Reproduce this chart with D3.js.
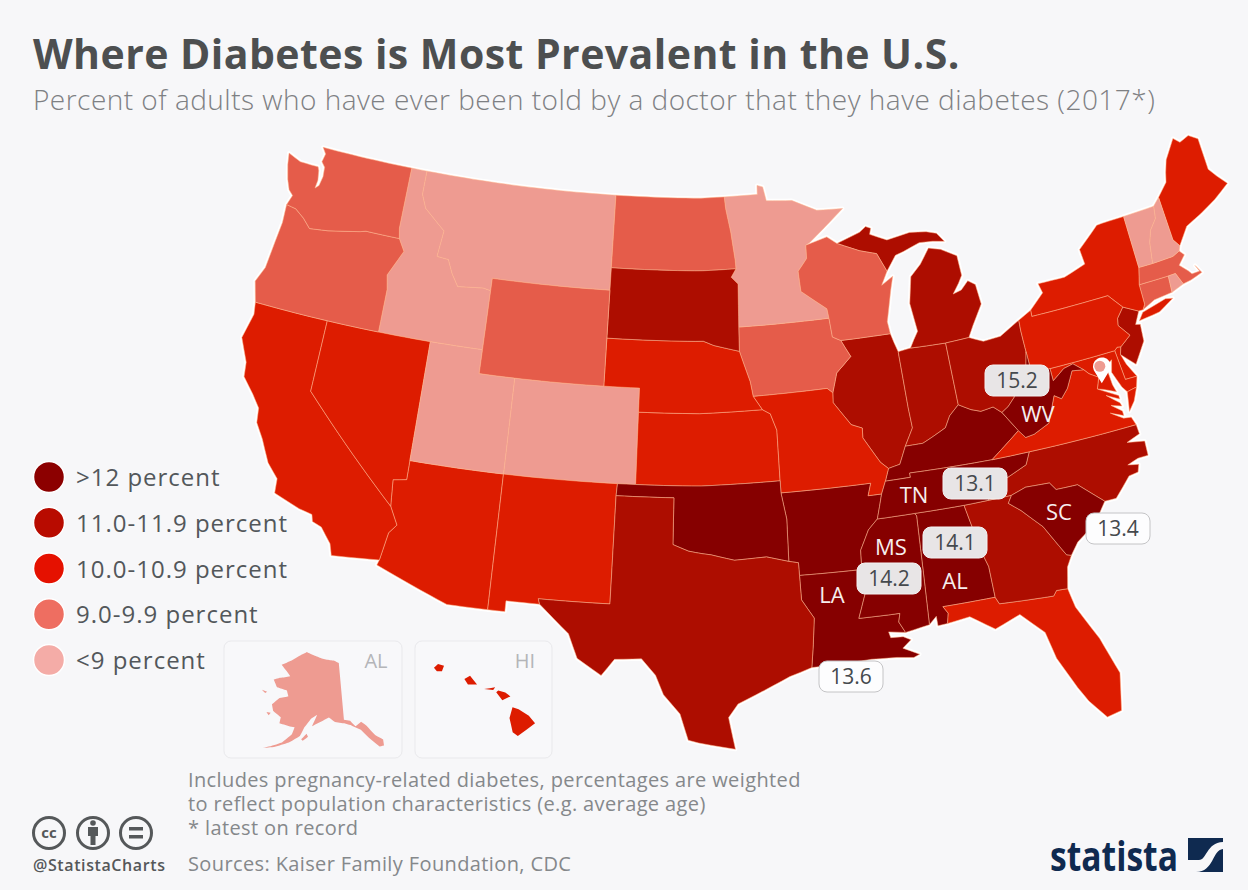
<!DOCTYPE html>
<html>
<head>
<meta charset="utf-8">
<script src="https://cdn.jsdelivr.net/npm/d3@7"></script>
<style>
  html, body { margin: 0; background: #f7f7f9; }
  text { font-family: "Open Sans", sans-serif; }
</style>
</head>
<body>
<svg id="chart" width="1248" height="890"></svg>
<script>
const stateCodes = ["AL","AK","AZ","AR","CA","CO","CT","DE","FL","GA","HI","ID","IL","IN","IA","KS","KY","LA","ME","MD","MA","MI","MN","MS","MO","MT","NE","NV","NH","NJ","NM","NY","NC","ND","OH","OK","OR","PA","RI","SC","SD","TN","TX","UT","VT","VA","WA","WV","WI","WY"]
const stateRates = [14.1,8.4,10.4,12.4,10.5,7.5,9.5,10.9,10.5,11.4,10.5,8.7,11.0,11.8,9.5,10.5,12.8,13.6,10.5,10.8,9.5,11.2,7.9,14.2,10.5,8.5,10.5,10.5,8.8,11.0,10.6,10.5,11.3,9.5,11.3,12.4,9.5,10.5,8.9,13.4,11.0,13.1,11.3,8.0,8.6,10.6,9.5,15.2,9.5,9.4]
const rateBreaks = [9, 10, 11, 12]
const mapColors = ["#ee9b91", "#e55c4a", "#dd1c00", "#ad0d00", "#860000"]
const legendLabels = [">12 percent", "11.0-11.9 percent", "10.0-10.9 percent", "9.0-9.9 percent", "<9 percent"]
const legendColors = ["#8c0000", "#b80b00", "#e51100", "#ee6e61", "#f4aca7"]
const labelledStates = ["WV", "TN", "MS", "AL", "LA", "SC"]
const noteLines = ["Includes pregnancy-related diabetes, percentages are weighted", "to reflect population characteristics (e.g. average age)", "* latest on record"]

// state outlines in lon/lat, rings per state
const outlines = {
  WA: [[[-122.76,49],[-117.03,49],[-117.04,46.42],[-116.92,45.99],[-118.98,46],[-119.3,45.93],[-121.2,45.65],[-122.3,45.55],[-122.8,45.9],[-123.4,46.2],[-124,46.27],[-123.8,46.7],[-124.1,46.9],[-124.35,47.3],[-124.6,47.9],[-124.72,48.38],[-123.9,48.16],[-123.2,48.15],[-122.75,48.15],[-122.65,48],[-122.55,47.6],[-122.6,47.25],[-122.4,47.4],[-122.3,47.8],[-122.35,48.2],[-122.6,48.4],[-122.5,48.75]]],
  OR: [[[-124,46.27],[-123.4,46.2],[-122.8,45.9],[-122.3,45.55],[-121.2,45.65],[-119.3,45.93],[-118.98,46],[-116.92,45.99],[-116.5,45.5],[-117.2,44.4],[-117.03,43.8],[-117.03,42],[-120,42],[-124.21,42],[-124.55,42.84],[-124.2,43.5],[-124.07,44.6],[-123.95,45.5]]],
  CA: [[[-124.21,42],[-120,42],[-120,39],[-114.63,35],[-114.15,34.27],[-114.5,33.9],[-114.72,32.72],[-117.12,32.53],[-117.3,33],[-117.9,33.6],[-118.4,33.75],[-118.5,34.03],[-119.2,34.15],[-120.6,34.55],[-120.65,35.15],[-121.3,35.7],[-121.9,36.6],[-122.4,37.2],[-122.5,37.8],[-123,38.3],[-123.7,38.9],[-123.8,39.5],[-124.4,40.44],[-124.1,41.5]]],
  NV: [[[-120,42],[-114.04,42],[-114.05,37],[-114.05,36.2],[-114.75,36.1],[-114.63,35],[-120,39]]],
  ID: [[[-117.03,49],[-116.05,49],[-116.05,48],[-115.7,47.45],[-114.35,46.65],[-114.5,45.55],[-113.8,45.5],[-113.45,44.95],[-113,44.45],[-111.5,44.55],[-111.05,44.48],[-111.05,42],[-114.04,42],[-117.03,42],[-117.03,43.8],[-117.2,44.4],[-116.5,45.5],[-116.92,45.99],[-117.04,46.42]]],
  MT: [[[-116.05,49],[-104.05,49],[-104.05,45.94],[-104.05,45],[-111.05,45],[-111.05,44.48],[-111.5,44.55],[-113,44.45],[-113.45,44.95],[-113.8,45.5],[-114.5,45.55],[-114.35,46.65],[-115.7,47.45],[-116.05,48]]],
  WY: [[[-111.05,45],[-104.05,45],[-104.05,43],[-104.05,41],[-109.05,41],[-111.05,41]]],
  UT: [[[-114.04,42],[-111.05,42],[-111.05,41],[-109.05,41],[-109.05,37],[-114.05,37]]],
  CO: [[[-109.05,41],[-104.05,41],[-102.05,41],[-102.05,40],[-102.04,37],[-103,37],[-109.05,37]]],
  AZ: [[[-114.05,37],[-109.05,37],[-109.05,31.33],[-111.07,31.33],[-114.8,32.5],[-114.72,32.72],[-114.5,33.9],[-114.15,34.27],[-114.63,35],[-114.75,36.1],[-114.05,36.2]]],
  NM: [[[-109.05,37],[-103,37],[-103.04,36.5],[-103.06,32],[-106.62,32],[-106.53,31.78],[-108.2,31.78],[-108.2,31.33],[-109.05,31.33]]],
  ND: [[[-104.05,49],[-97.23,49],[-97.15,48.5],[-96.85,47.5],[-96.6,46.3],[-96.56,45.94],[-104.05,45.94]]],
  SD: [[[-104.05,45.94],[-96.56,45.94],[-96.85,45.6],[-96.45,45.3],[-96.45,43.5],[-96.44,42.49],[-97.9,42.8],[-98.5,43],[-104.05,43],[-104.05,45]]],
  NE: [[[-104.05,43],[-98.5,43],[-97.9,42.8],[-96.44,42.49],[-95.9,41.2],[-95.77,40.58],[-95.31,40],[-102.05,40],[-102.05,41],[-104.05,41]]],
  KS: [[[-102.05,40],[-95.31,40],[-94.9,39.8],[-94.61,39.1],[-94.62,37],[-102.04,37]]],
  OK: [[[-103,37],[-102.04,37],[-94.62,37],[-94.62,36.5],[-94.43,35.4],[-94.48,33.64],[-95.5,33.9],[-97,33.85],[-98.1,34.13],[-99.2,34.3],[-100,34.56],[-100,36.5],[-103.04,36.5]]],
  TX: [[[-103.04,36.5],[-100,36.5],[-100,34.56],[-99.2,34.3],[-98.1,34.13],[-97,33.85],[-95.5,33.9],[-94.48,33.64],[-94.04,33.55],[-94.04,33.02],[-94.04,32],[-93.55,31.2],[-93.7,30.1],[-93.85,29.15],[-94.8,28.85],[-95.9,28.35],[-97,27.85],[-97.4,27.3],[-97.15,25.95],[-99.1,26.4],[-99.5,27.5],[-100.3,28.3],[-100.7,29.1],[-101.4,29.77],[-102.7,29.7],[-103.3,29],[-104.5,29.65],[-105,30.65],[-106.53,31.78],[-106.62,32],[-103.06,32]]],
  MN: [[[-97.23,49],[-95.15,49],[-95.15,49.38],[-94.8,49.3],[-94.6,48.7],[-93,48.6],[-91.5,48.07],[-89.9,48],[-92.05,46.75],[-92.3,46.66],[-92.3,46.1],[-92.85,45.6],[-92.75,44.75],[-91.3,43.9],[-91.22,43.5],[-96.45,43.5],[-96.45,45.3],[-96.85,45.6],[-96.56,45.94],[-96.6,46.3],[-96.85,47.5],[-97.15,48.5]]],
  IA: [[[-96.45,43.5],[-91.22,43.5],[-91.1,42.7],[-90.64,42.51],[-90.2,41.8],[-91.1,41.2],[-91.45,40.4],[-91.73,40.61],[-95.77,40.58],[-95.9,41.2],[-96.44,42.49]]],
  MO: [[[-95.77,40.58],[-91.73,40.61],[-91.45,40.4],[-91.5,40],[-90.7,39],[-90.15,38.8],[-90.2,38.4],[-89.5,37.3],[-89.13,37],[-89.4,36.5],[-89.7,36],[-90.37,36],[-90.15,36.5],[-94.62,36.5],[-94.62,37],[-94.61,39.1],[-94.9,39.8],[-95.31,40]]],
  AR: [[[-94.62,36.5],[-90.15,36.5],[-90.37,36],[-89.7,36],[-90.1,35],[-90.6,34.6],[-91.1,33.8],[-91.17,33],[-94.04,33.02],[-94.04,33.55],[-94.48,33.64],[-94.43,35.4]]],
  LA: [[[-94.04,33.02],[-91.17,33],[-91,32.4],[-91.6,31],[-89.73,31],[-89.85,30.65],[-89.6,30.18],[-90.4,30.3],[-90.35,30.05],[-89.75,30.02],[-89.4,29.85],[-89.85,29.55],[-89.1,29.2],[-89.4,29.1],[-90.2,29.2],[-91.3,29.25],[-92.3,29.2],[-93.85,29.15],[-93.7,30.1],[-93.55,31.2],[-94.04,32]]],
  WI: [[[-90.42,46.57],[-89.1,46.13],[-88.1,45.9],[-87.6,45.1],[-88,44.55],[-87.3,44.85],[-87.5,44.3],[-87.9,43],[-87.8,42.49],[-90.64,42.51],[-91.1,42.7],[-91.22,43.5],[-91.3,43.9],[-92.75,44.75],[-92.85,45.6],[-92.3,46.1],[-92.3,46.66],[-91,46.9]]],
  IL: [[[-87.52,41.7],[-87.8,42.49],[-90.64,42.51],[-90.2,41.8],[-91.1,41.2],[-91.45,40.4],[-91.5,40],[-90.7,39],[-90.15,38.8],[-90.2,38.4],[-89.5,37.3],[-89.13,37],[-88.5,37.1],[-88.05,37.8],[-87.5,38.5],[-87.53,39.35]]],
  IN: [[[-84.8,41.7],[-86.8,41.76],[-87.52,41.7],[-87.53,39.35],[-87.5,38.5],[-88.05,37.8],[-87.1,37.8],[-86.5,38],[-85.75,38.27],[-85.4,38.72],[-84.82,39.1]]],
  OH: [[[-84.8,41.7],[-83.45,41.73],[-82.7,41.45],[-81.7,41.5],[-80.52,41.98],[-80.52,40.64],[-80.85,39.7],[-81.7,39.25],[-81.75,38.93],[-82.2,38.6],[-82.6,38.42],[-83,38.72],[-83.7,38.65],[-84.2,38.8],[-84.82,39.1]]],
  MI: [
    [[-84.8,41.7],[-86.8,41.76],[-86.25,42.4],[-86.5,43.6],[-86.25,44.7],[-85.6,45.15],[-85,45.75],[-84.3,45.6],[-83.4,45.2],[-83.3,44.35],[-83.55,44.05],[-83.95,43.65],[-83.45,43.75],[-83,44.07],[-82.6,43.85],[-82.45,43],[-83.1,42.2],[-83.45,41.73]],
    [[-90.42,46.57],[-89,46.9],[-88.6,47.1],[-88.3,47],[-88.4,46.75],[-87.4,46.4],[-86,46.55],[-85,46.45],[-84.4,46.3],[-84,45.9],[-84.7,46],[-85.5,46.05],[-86.5,45.8],[-87,45.7],[-87.6,45.1],[-88.1,45.9],[-89.1,46.13]]
  ],
  KY: [[[-83.68,36.6],[-86.5,36.65],[-88.07,36.68],[-88.07,36.5],[-89.4,36.5],[-89.13,37],[-88.5,37.1],[-88.05,37.8],[-87.1,37.8],[-86.5,38],[-85.75,38.27],[-85.4,38.72],[-84.82,39.1],[-84.2,38.8],[-83.7,38.65],[-83,38.72],[-82.6,38.42],[-81.97,37.54]]],
  TN: [[[-90.1,35],[-88.2,35],[-85.6,34.98],[-84.32,34.99],[-84,35.4],[-83.1,35.75],[-82,36.1],[-81.68,36.59],[-83.68,36.6],[-86.5,36.65],[-88.07,36.68],[-88.07,36.5],[-89.4,36.5],[-89.7,36]]],
  MS: [[[-88.2,35],[-90.1,35],[-90.6,34.6],[-91.1,33.8],[-91.17,33],[-91,32.4],[-91.6,31],[-89.73,31],[-89.85,30.65],[-89.6,30.18],[-88.4,30.35],[-88.1,34.9]]],
  AL: [[[-88.2,35],[-85.6,34.98],[-85.18,32.87],[-85,32.3],[-85,31],[-87.6,31],[-87.4,30.7],[-87.52,30.28],[-88,30.25],[-88,30.65],[-88.4,30.35],[-88.1,34.9]]],
  GA: [[[-85.6,34.98],[-84.32,34.99],[-83.1,35],[-83.35,34.7],[-82.8,34.3],[-81.9,33.45],[-81.1,32.1],[-80.87,32.03],[-81.2,31.6],[-81.45,30.72],[-82,30.75],[-82.2,30.55],[-84.86,30.7],[-85,31],[-85,32.3],[-85.18,32.87]]],
  FL: [[[-87.6,31],[-85,31],[-84.86,30.7],[-82.2,30.55],[-82,30.75],[-81.45,30.72],[-81.3,29.9],[-80.55,28.4],[-80.03,26.8],[-80.4,25.25],[-81.1,25.12],[-81.75,25.95],[-82.1,26.6],[-82.75,28],[-83,29.15],[-84,30.1],[-85.3,29.7],[-86.4,30.4],[-87.52,30.28],[-87.4,30.7]]],
  SC: [[[-83.1,35],[-82.3,35.2],[-81.05,35.15],[-80.8,34.82],[-79.67,34.8],[-78.55,33.86],[-79.3,33.1],[-80.4,32.5],[-80.87,32.03],[-81.1,32.1],[-81.9,33.45],[-82.8,34.3],[-83.35,34.7]]],
  NC: [[[-84.32,34.99],[-83.1,35],[-82.3,35.2],[-81.05,35.15],[-80.8,34.82],[-79.67,34.8],[-78.55,33.86],[-77.95,33.85],[-77,34.6],[-76.5,34.65],[-76.35,34.95],[-76.9,35.05],[-76.3,35.2],[-75.75,35.2],[-75.7,35.8],[-76.6,35.95],[-75.85,36.15],[-75.87,36.55],[-81.68,36.59],[-82,36.1],[-83.1,35.75],[-84,35.4]]],
  VA: [
    [[-83.68,36.6],[-81.97,37.54],[-81.68,37.2],[-81.2,37.25],[-80.3,37.55],[-79.65,38.6],[-79.3,38.4],[-78.85,38.75],[-78.35,39.4],[-77.72,39.32],[-77.5,39.1],[-77.05,38.85],[-77.3,38.4],[-76.3,37.9],[-76.3,37.75],[-76.95,38.05],[-76.35,37.6],[-76.3,37.45],[-76.85,37.6],[-76.35,37.25],[-76.35,37.05],[-77,37.3],[-76.4,36.95],[-76,36.9],[-75.87,36.55],[-81.68,36.59]],
    [[-76,37.15],[-75.8,37.95],[-75.25,38.03],[-75.6,37.5]]
  ],
  WV: [[[-80.52,40.64],[-80.52,39.72],[-79.48,39.72],[-79.48,39.2],[-78.75,39.58],[-78.2,39.67],[-77.72,39.32],[-78.35,39.4],[-78.85,38.75],[-79.3,38.4],[-79.65,38.6],[-80.3,37.55],[-81.2,37.25],[-81.68,37.2],[-81.97,37.54],[-82.6,38.42],[-82.2,38.6],[-81.75,38.93],[-81.7,39.25],[-80.85,39.7]]],
  MD: [[[-79.48,39.72],[-75.79,39.72],[-75.7,38.46],[-75.05,38.45],[-75.25,38.03],[-75.8,37.95],[-76,38.2],[-76.3,38.9],[-76.1,39.4],[-76.5,39.2],[-76.45,38.4],[-76.35,38.08],[-77,38.32],[-77.3,38.4],[-77.05,38.85],[-77.5,39.1],[-77.72,39.32],[-78.2,39.67],[-78.75,39.58],[-79.48,39.2]]],
  DE: [[[-75.79,39.72],[-75.6,39.83],[-75.4,39.8],[-75.55,39.5],[-75.4,39.05],[-75.05,38.45],[-75.7,38.46]]],
  PA: [[[-80.52,41.98],[-79.76,42.27],[-79.76,42],[-75.35,42],[-74.7,41.36],[-75.13,40.97],[-75.2,40.68],[-74.73,40.15],[-75.4,39.8],[-75.6,39.83],[-75.79,39.72],[-79.48,39.72],[-80.52,39.72],[-80.52,40.64]]],
  NJ: [[[-74.7,41.36],[-73.9,41],[-74.25,40.5],[-74,40.45],[-74.1,39.75],[-74.9,38.93],[-75.55,39.5],[-75.4,39.8],[-74.73,40.15],[-75.2,40.68],[-75.13,40.97]]],
  NY: [
    [[-79.76,42.27],[-78.9,42.85],[-79.05,43.27],[-77.5,43.25],[-76.2,43.55],[-76.3,44.2],[-75,44.98],[-74.7,45],[-73.35,45],[-73.3,43.63],[-73.27,42.75],[-73.5,42.05],[-73.49,41.2],[-73.65,41],[-73.9,41],[-74.7,41.36],[-75.35,42],[-79.76,42]],
    [[-74,40.6],[-73.7,40.9],[-72.3,41.15],[-71.9,41.07],[-72.8,40.7]]
  ],
  CT: [[[-73.5,42.05],[-71.8,42.02],[-71.85,41.32],[-72.9,41.25],[-73.65,41],[-73.49,41.2]]],
  RI: [[[-71.8,42.02],[-71.38,42.02],[-71.12,41.5],[-71.85,41.32]]],
  MA: [[[-73.5,42.05],[-73.27,42.75],[-72.46,42.73],[-71.25,42.74],[-70.82,42.87],[-70.6,42.65],[-71.05,42.3],[-70.65,41.95],[-70.5,41.78],[-70.05,41.78],[-70.2,42.07],[-69.95,41.7],[-70.65,41.55],[-71.12,41.5],[-71.38,42.02],[-71.8,42.02]]],
  VT: [[[-73.35,45],[-71.5,45.01],[-71.6,44.5],[-72.05,44.1],[-72.3,43.6],[-72.46,42.73],[-73.27,42.75],[-73.3,43.63]]],
  NH: [[[-71.5,45.01],[-71.08,45.3],[-70.98,43.4],[-70.7,43.07],[-70.82,42.87],[-71.25,42.74],[-72.46,42.73],[-72.3,43.6],[-72.05,44.1],[-71.6,44.5]]],
  ME: [[[-71.08,45.3],[-70.4,45.8],[-70.25,46.2],[-70,46.7],[-69.23,47.46],[-68.9,47.2],[-68.3,47.35],[-67.8,47.07],[-67.8,45.7],[-67.45,45.3],[-67,44.85],[-68,44.4],[-69,44.05],[-70,43.75],[-70.7,43.07],[-70.98,43.4]]],
  AK: [
    [[-141,69.65],[-143,70.1],[-148,70.4],[-152,70.85],[-156.6,71.35],[-160,70.5],[-163,69.5],[-166.8,68.35],[-164,67.6],[-162,66.9],[-163.5,66.6],[-166,66.2],[-168.1,65.65],[-166,64.6],[-162,64.5],[-161,63.6],[-164,63],[-166,61.7],[-165,60.7],[-162,60],[-162,59],[-158,58.8],[-157,58.8],[-157.5,57.6],[-160,56],[-163,55],[-165,54.4],[-162,55],[-158,56.2],[-155,57.5],[-153.9,59],[-152,60.5],[-150,61.2],[-151.5,59.3],[-149,60],[-146,60.8],[-144,60],[-141,59.7],[-139,59.3],[-136,58.3],[-134,56.8],[-131.5,55],[-130.2,55],[-130,56],[-132,57],[-134,58.8],[-135.5,59.6],[-137.5,59],[-139,60],[-141,60.3]],
    [[-154.5,57],[-153,58],[-152.5,57.5],[-154,56.8]],
    [[-171,63.4],[-169,63.4],[-169.5,63.1]],
    [[-167,60.2],[-165.6,60.3],[-166,59.8]]
  ],
  HI: [
    [[-159.8,22.05],[-159.6,22.23],[-159.3,22.15],[-159.4,21.9],[-159.65,21.9]],
    [[-158.28,21.55],[-158,21.7],[-157.65,21.3],[-158.1,21.3]],
    [[-157.3,21.1],[-156.75,21.17],[-156.85,21.05]],
    [[-156.7,20.95],[-156.6,21.03],[-156.25,20.93],[-156,20.75],[-156.4,20.58]],
    [[-155.9,20.25],[-155.6,20.15],[-155.1,19.85],[-154.8,19.5],[-155.65,18.92],[-155.9,19.1],[-156.05,19.75]]
  ]
}

// long edges follow the parallels, so add points before the sphere bends them
function densify(ring) {
  const out = []
  ring.forEach((p, i) => {
    const q = ring[(i + 1) % ring.length]
    const steps = Math.ceil(Math.max(Math.abs(q[0] - p[0]), Math.abs(q[1] - p[1])) / 0.5) || 1
    for (let k = 0; k < steps; k++) out.push([p[0] + (q[0] - p[0]) * k / steps, p[1] + (q[1] - p[1]) * k / steps])
  })
  out.push(out[0].slice())
  return out
}

function toPolygon(ring) {
  const dense = densify(ring)
  const poly = {type: "Polygon", coordinates: [dense]}
  if (d3.geoArea(poly) > 2 * Math.PI) poly.coordinates = [dense.slice().reverse()]
  return poly.coordinates
}

const features = stateCodes.map((code, i) => ({
  type: "Feature",
  id: code,
  properties: {rate: stateRates[i]},
  geometry: {type: "MultiPolygon", coordinates: outlines[code].map(toPolygon)}
}))

const color = d3.scaleThreshold().domain(rateBreaks).range(mapColors)
const svg = d3.select("#chart")

const lower48 = features.filter((d) => d.id !== "AK" && d.id !== "HI")
const albers = d3.geoAlbers()
  .rotate([98, 0])
  .center([0, 38])
  .parallels([29.5, 45.5])
  .scale(1370)
  .translate([712, 462])

// the original map turns its eastern half slightly, same here on top of the Albers
function bend(x, y) {
  const share = Math.min(1, Math.max(0, (x - 700) / 170))
  return [x + 0.07 * Math.max(0, y - 350) * share, y - 0.055 * Math.max(0, x - 700)]
}
const bent = d3.geoTransform({
  point(x, y) {
    const p = bend(x, y)
    this.stream.point(p[0], p[1])
  }
})
const path = d3.geoPath({stream: (s) => albers.stream(bent.stream(s))})

const halo = svg.append("g")
halo.selectAll("path").data(lower48).join("path")
  .attr("d", path)
  .attr("fill", "#fff")
  .attr("stroke", "#fff")
  .attr("stroke-width", 4)
  .attr("stroke-linejoin", "round")

svg.append("g").selectAll("path").data(lower48).join("path")
  .attr("d", path)
  .attr("fill", (d) => color(d.properties.rate))
  .attr("stroke", "#ffb48c")
  .attr("stroke-opacity", 0.65)
  .attr("stroke-width", 0.8)
  .attr("stroke-linejoin", "round")

// DC pin, the tip sits at the head of the Potomac as drawn in the original
const dc = bend(...albers([-76.98, 38.58]))
const pin = svg.append("g").attr("transform", `translate(${dc[0]},${dc[1]})`)
pin.append("path").attr("d", "M-8,-13 A9,9 0 1 1 6,-10 L0,0 Z").attr("fill", "#fff")
pin.append("circle").attr("cx", -2).attr("cy", -17).attr("r", 5.5).attr("fill", mapColors[0])

// insets
const insets = [
  {id: "AK", label: "AL", x: 224, w: 178, labelX: 376, extent: [[262, 648], [384, 752]], proj: d3.geoConicEqualArea().rotate([147, 0]).parallels([55, 65])},
  {id: "HI", label: "HI", x: 415, w: 137, labelX: 525, extent: [[430, 664], [539, 736]], proj: d3.geoConicEqualArea().rotate([157, 0]).parallels([19, 22])}
]
insets.forEach((inset) => {
  const f = features.find((d) => d.id === inset.id)
  svg.append("rect")
    .attr("x", inset.x).attr("y", 641)
    .attr("width", inset.w).attr("height", 117)
    .attr("rx", 7)
    .attr("fill", "#f8f8fa")
    .attr("stroke", "#e9e9ec")
  svg.append("path")
    .datum(f)
    .attr("d", d3.geoPath(inset.proj.fitExtent(inset.extent, f)))
    .attr("fill", color(f.properties.rate))
  svg.append("text")
    .attr("x", inset.labelX).attr("y", 668)
    .attr("text-anchor", "middle")
    .attr("font-size", 20)
    .attr("fill", "#b4b5b8")
    .text(inset.label)
})

// state codes on the darkest states
const codePlaces = {WV: [1038, 422], TN: [914, 503], MS: [891, 555], AL: [955, 589], LA: [832, 603], SC: [1059, 520]}
svg.append("g").selectAll("text").data(labelledStates).join("text")
  .attr("x", (d) => codePlaces[d][0])
  .attr("y", (d) => codePlaces[d][1])
  .attr("text-anchor", "middle")
  .attr("font-size", 22)
  .attr("fill", "#f6eeee")
  .text((d) => d)

// value badges, the last two sit off the coast
const badgePlaces = {WV: [985, 365, false], TN: [943, 468, false], AL: [923, 527, false], MS: [857, 563, false], SC: [1086, 513, true], LA: [819, 661, true]}
const badges = svg.append("g").selectAll("g").data(Object.keys(badgePlaces)).join("g")
  .attr("transform", (d) => `translate(${badgePlaces[d][0]},${badgePlaces[d][1]})`)
badges.append("rect")
  .attr("width", 64).attr("height", 31).attr("rx", 8)
  .attr("fill", (d) => badgePlaces[d][2] ? "#fdfdfe" : "#e8e5e6")
  .attr("stroke", (d) => badgePlaces[d][2] ? "#c4c4c6" : "#f4f2f2")
badges.append("text")
  .attr("x", 32).attr("y", 23)
  .attr("text-anchor", "middle")
  .attr("font-size", 21)
  .attr("fill", "#45494d")
  .text((d) => stateRates[stateCodes.indexOf(d)].toFixed(1))

// legend
const legendY = d3.scalePoint().domain(legendLabels).range([477, 660])
const legend = svg.append("g").selectAll("g").data(legendLabels).join("g")
  .attr("transform", (d) => `translate(49,${legendY(d)})`)
legend.append("circle")
  .attr("r", 15.5)
  .attr("fill", (d, i) => legendColors[i])
  .attr("stroke", "#fff")
  .attr("stroke-width", 1.5)
legend.append("text")
  .attr("x", 27).attr("y", 9)
  .attr("font-size", 24)
  .attr("letter-spacing", 1)
  .attr("fill", "#53575b")
  .text((d) => d)

// titles
svg.append("text").attr("x", 33).attr("y", 69)
  .attr("font-size", 41).attr("font-weight", 700).attr("letter-spacing", 0.45).attr("fill", "#4d4f50")
  .text("Where Diabetes is Most Prevalent in the U.S.")
svg.append("text").attr("x", 33).attr("y", 110)
  .attr("font-size", 28).attr("font-weight", 300).attr("letter-spacing", 0.48).attr("fill", "#7e8083")
  .text("Percent of adults who have ever been told by a doctor that they have diabetes (2017*)")

// notes
svg.append("g").selectAll("text").data(noteLines).join("text")
  .attr("x", 188)
  .attr("y", (d, i) => 787 + i * 24)
  .attr("font-size", 20)
  .attr("letter-spacing", 0.38)
  .attr("fill", "#85888b")
  .text((d) => d)
svg.append("text").attr("x", 188).attr("y", 871)
  .attr("font-size", 20).attr("letter-spacing", 0.38).attr("fill", "#85888b")
  .text("Sources: Kaiser Family Foundation, CDC")

// cc icons
const cc = svg.append("g").attr("fill", "none").attr("stroke", "#55585a").attr("stroke-width", 3)
;[49, 93, 136].forEach((x) => cc.append("circle").attr("cx", x).attr("cy", 833).attr("r", 15.5))
svg.append("text").attr("x", 49).attr("y", 838).attr("text-anchor", "middle")
  .attr("font-size", 15).attr("font-weight", 700).attr("fill", "#55585a").text("cc")
svg.append("circle").attr("cx", 93).attr("cy", 823).attr("r", 2.8).attr("fill", "#55585a")
svg.append("path").attr("d", "M88,827 h10 v9 h-2.5 v9 h-5 v-9 h-2.5 Z").attr("fill", "#55585a")
svg.append("path").attr("d", "M129,827 h14 v3.5 h-14 Z M129,835 h14 v3.5 h-14 Z").attr("fill", "#55585a")
svg.append("text").attr("x", 33).attr("y", 871)
  .attr("font-size", 16).attr("font-weight", 600).attr("letter-spacing", 0.6).attr("fill", "#55585a")
  .text("@StatistaCharts")

// statista logo
svg.append("text").attr("x", 1050).attr("y", 871)
  .attr("font-size", 42).attr("font-weight", 700).attr("fill", "#0f2a50")
  .attr("textLength", 128).attr("lengthAdjust", "spacingAndGlyphs")
  .text("statista")
svg.append("rect").attr("x", 1188).attr("y", 838).attr("width", 35).attr("height", 34).attr("fill", "#0f2a50")
svg.append("path").attr("d", "M1188,860 H1199 C1207,860 1206,843 1223,842 V849 C1212,850 1214,872 1196,872 H1188 Z").attr("fill", "#f7f7f9")
</script>
</body>
</html>
